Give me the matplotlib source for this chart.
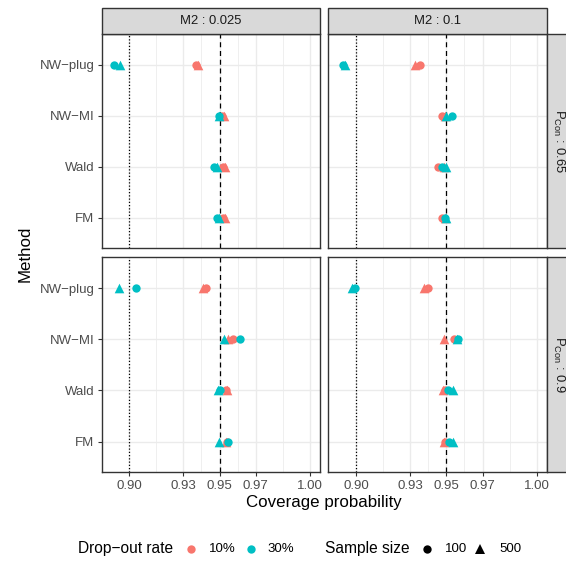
import matplotlib
matplotlib.use("Agg")
import matplotlib.pyplot as plt
from matplotlib.patches import Rectangle
from matplotlib.lines import Line2D

plt.rcParams['font.family'] = ['Liberation Sans', 'DejaVu Sans']
plt.rcParams['mathtext.fontset'] = 'custom'
plt.rcParams['mathtext.rm'] = 'Liberation Sans'
plt.rcParams['mathtext.it'] = 'Liberation Sans:italic'

W, H, DPI = 566, 563, 100

# ---- data -------------------------------------------------------------
methods = ["FM", "Wald", "NW\u2212MI", "NW\u2212plug"]          # bottom -> top
m2_levels = ["0.025", "0.1"]
pcon_levels = ["0.65", "0.9"]
x_ticks = [0.90, 0.93, 0.95, 0.97, 1.00]
x_tick_labels = ["0.90", "0.93", "0.95", "0.97", "1.00"]
x_minor = [0.915, 0.94, 0.96, 0.985]
nominal = 0.95
reference = 0.90

# coverage probability, in method order FM, Wald, NW-MI, NW-plug
# M2 = 0.025, P_Con = 0.65
cov_a_10_100 = [0.9520, 0.9518, 0.9515, 0.9372]
cov_a_10_500 = [0.9530, 0.9530, 0.9525, 0.9379]
cov_a_30_100 = [0.9488, 0.9471, 0.9495, 0.8914]
cov_a_30_500 = [0.9497, 0.9485, 0.9499, 0.8946]
# M2 = 0.1, P_Con = 0.65
cov_b_10_100 = [0.9477, 0.9455, 0.9477, 0.9353]
cov_b_10_500 = [0.9490, 0.9485, 0.9490, 0.9325]
cov_b_30_100 = [0.9493, 0.9477, 0.9532, 0.8930]
cov_b_30_500 = [0.9496, 0.9496, 0.9496, 0.8937]
# M2 = 0.025, P_Con = 0.9
cov_c_10_100 = [0.9540, 0.9535, 0.9573, 0.9425]
cov_c_10_500 = [0.9536, 0.9542, 0.9545, 0.9410]
cov_c_30_100 = [0.9549, 0.9500, 0.9615, 0.9037]
cov_c_30_500 = [0.9497, 0.9493, 0.9525, 0.8943]
# M2 = 0.1, P_Con = 0.9
cov_d_10_100 = [0.9495, 0.9490, 0.9543, 0.9399]
cov_d_10_500 = [0.9488, 0.9479, 0.9488, 0.9375]
cov_d_30_100 = [0.9515, 0.9510, 0.9565, 0.8997]
cov_d_30_500 = [0.9534, 0.9534, 0.9560, 0.8978]

panels = {
    (0, 0): [cov_a_10_100, cov_a_10_500, cov_a_30_100, cov_a_30_500],
    (0, 1): [cov_b_10_100, cov_b_10_500, cov_b_30_100, cov_b_30_500],
    (1, 0): [cov_c_10_100, cov_c_10_500, cov_c_30_100, cov_c_30_500],
    (1, 1): [cov_d_10_100, cov_d_10_500, cov_d_30_100, cov_d_30_500],
}
rate_labels = ["10%", "30%"]
size_labels = ["100", "500"]

# ---- styling ----------------------------------------------------------
RED, CYAN = "#F8766D", "#00BFC4"
series_style = [(RED, "o"), (RED, "^"), (CYAN, "o"), (CYAN, "^")]
marker_area = {"o": 36, "^": 48}
FRAME = "#333333"
GRID = "#EBEBEB"
STRIP = "#D9D9D9"
TICKTXT = "#4D4D4D"

fig = plt.figure(figsize=(W / DPI, H / DPI), dpi=DPI)


def fx(px):
    return px / W


def fy(py):
    return 1 - py / H


col_x = [(101.7, 319.7), (328.3, 546.7)]
row_y = [(34.3, 248.3), (257.3, 472.3)]
xlim = (0.8847, 1.0055)
ypos = list(range(1, len(methods) + 1))

for (r, c), series in panels.items():
    x0, x1 = col_x[c]
    y0, y1 = row_y[r]
    ax = fig.add_axes([fx(x0), fy(y1), (x1 - x0) / W, (y1 - y0) / H])
    ax.set_xlim(*xlim)
    ax.set_ylim(0.4, len(methods) + 0.6)
    ax.set_xticks(x_ticks)
    ax.set_xticks(x_minor, minor=True)
    ax.set_yticks(ypos)
    ax.set_axisbelow(True)
    ax.grid(which="major", color=GRID, lw=1.0)
    ax.grid(which="minor", axis="x", color=GRID, lw=0.55)
    ax.tick_params(which="minor", length=0)
    ax.tick_params(which="major", length=3.0, width=0.8, color=FRAME,
                   labelcolor=TICKTXT, labelsize=9.5, pad=2.2)
    for sp in ax.spines.values():
        sp.set_color(FRAME)
        sp.set_linewidth(1.0)

    if c == 0:
        ax.set_yticklabels(methods)
    else:
        ax.tick_params(axis="y", length=0, labelleft=False)
    if r == 1:
        ax.set_xticklabels(x_tick_labels)
    else:
        ax.tick_params(axis="x", length=0, labelbottom=False)

    ax.axvline(reference, color="black", lw=0.9, ls=(0, (1.0, 1.6)), zorder=1)
    ax.axvline(nominal, color="black", lw=0.9, ls=(0, (4.0, 3.0)), zorder=1)

    for vals, (col, mk) in zip(series, series_style):
        ax.scatter(vals, ypos, s=marker_area[mk], marker=mk, color=col,
                   linewidths=0, zorder=3)

# facet strips along the top
for c, lvl in enumerate(m2_levels):
    x0, x1 = col_x[c]
    fig.add_artist(Rectangle((fx(x0), fy(34.3)), (x1 - x0) / W, 26.0 / H,
                             transform=fig.transFigure, facecolor=STRIP,
                             edgecolor=FRAME, lw=1.0))
    fig.text(fx((x0 + x1) / 2), fy(21.5), f"M2 : {lvl}", ha="center",
             va="center", fontsize=9.4, color="#1A1A1A")

# facet strips along the right side
for r, lvl in enumerate(pcon_levels):
    y0, y1 = row_y[r]
    fig.add_artist(Rectangle((fx(546.7), fy(y1)), 26.0 / W, (y1 - y0) / H,
                             transform=fig.transFigure, facecolor=STRIP,
                             edgecolor=FRAME, lw=1.0, clip_on=False))
    fig.text(fx(559.0), fy((y0 + y1) / 2),
             r"$\mathrm{P}_{\mathrm{Con}}\,:\,$" + lvl,
             ha="center", va="center", rotation=-90, fontsize=9.4,
             color="#1A1A1A")

# axis titles
fig.text(fx(324.0), fy(503.0), "Coverage probability", ha="center",
         va="center", fontsize=12.2)
fig.text(fx(25.0), fy(253.5), "Method", ha="center", va="center",
         rotation=90, fontsize=12.2)

# legends at the bottom
LEG_Y = 548.5
fig.text(fx(77.7), fy(LEG_Y), "Drop\u2212out rate", ha="left", va="center",
         fontsize=11.2)
for xd, xt, col, lab in [(191, 209.3, RED, rate_labels[0]),
                         (251, 267.0, CYAN, rate_labels[1])]:
    fig.add_artist(Line2D([fx(xd)], [fy(LEG_Y)], marker="o", ms=6.0,
                          color=col, mew=0, transform=fig.transFigure))
    fig.text(fx(xt), fy(LEG_Y), lab, ha="left", va="center", fontsize=9.5,
             color="black")

fig.text(fx(325.0), fy(LEG_Y), "Sample size", ha="left", va="center",
         fontsize=11.2)
for xd, xt, mk, ms, lab in [(427, 445.0, "o", 6.0, size_labels[0]),
                            (480, 499.0, "^", 7.0, size_labels[1])]:
    fig.add_artist(Line2D([fx(xd)], [fy(LEG_Y)], marker=mk, ms=ms,
                          color="black", mew=0, transform=fig.transFigure))
    fig.text(fx(xt), fy(LEG_Y), lab, ha="left", va="center", fontsize=9.5,
             color="black")

fig.savefig("out.png", dpi=DPI, facecolor="white")
